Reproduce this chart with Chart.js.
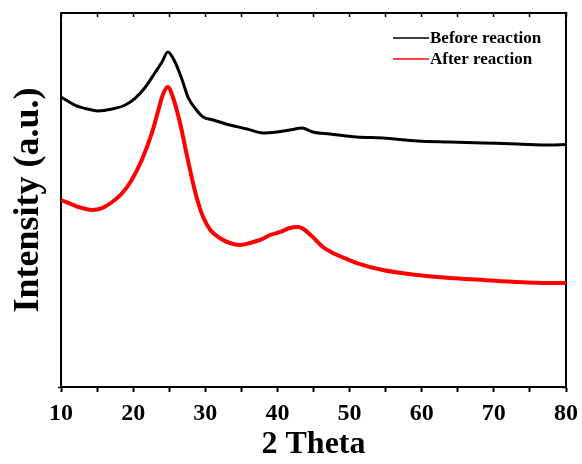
<!DOCTYPE html>
<html>
<head>
<meta charset="utf-8">
<script src="https://cdn.jsdelivr.net/npm/chart.js@4/dist/chart.umd.min.js"></script>
<style>
  html, body { margin: 0; padding: 0; background: #fff; }
  #wrap { width: 582px; height: 464px; }
</style>
</head>
<body>
<div id="wrap"><canvas id="grafico"></canvas></div>
<script>
// valores (2 theta em graus, intensidade em u.a.)
const thetaAntes = [10.0, 11.9, 13.7, 15.1, 17.1, 18.9, 20.3, 21.6, 23.0, 24.0, 24.8, 25.8, 26.8, 27.6, 29.0, 29.7, 31.1, 33.4, 35.8, 38.0, 39.9, 41.7, 43.4, 44.9, 47.3, 51.0, 54.6, 59.4, 63.9, 68.5, 73.2, 77.8, 80.0];
const intensAntes = [3558, 3460, 3411, 3387, 3411, 3460, 3546, 3669, 3853, 3988, 4110, 3988, 3767, 3558, 3374, 3313, 3276, 3215, 3166, 3117, 3129, 3153, 3178, 3129, 3104, 3067, 3055, 3018, 3006, 2994, 2982, 2969, 2975];

const thetaDepois = [10.0, 11.0, 12.4, 14.3, 15.7, 17.1, 18.5, 19.8, 21.2, 22.6, 23.5, 24.1, 24.8, 25.5, 26.5, 27.5, 28.3, 28.9, 29.7, 30.7, 32.0, 33.4, 34.8, 36.2, 37.6, 39.0, 40.4, 41.7, 42.9, 43.8, 44.9, 46.3, 47.7, 49.6, 51.0, 54.6, 59.4, 63.9, 68.5, 73.2, 77.8, 80.0];
const intensDepois = [2294, 2258, 2209, 2172, 2196, 2270, 2380, 2540, 2785, 3117, 3399, 3583, 3681, 3558, 3239, 2822, 2503, 2294, 2086, 1926, 1828, 1767, 1742, 1767, 1804, 1865, 1902, 1951, 1963, 1926, 1840, 1718, 1644, 1571, 1521, 1436, 1374, 1337, 1313, 1288, 1276, 1276];

const legendas = ["Before reaction", "After reaction"];
const cores = ["#000000", "#ff0000"];

const fonte = "'Liberation Serif', 'Times New Roman', serif";

function pontos(xs, ys) {
  return xs.map((x, i) => ({ x: x, y: ys[i] }));
}

// legenda desenhada dentro da area do grafico, como no original
const legendaInterna = {
  id: "legendaInterna",
  afterDraw(chart) {
    const ctx = chart.ctx;
    const area = chart.chartArea;
    ctx.save();
    ctx.font = "bold 17px " + fonte;
    ctx.textBaseline = "middle";
    legendas.forEach((txt, i) => {
      let y = area.top + 25 + i * 21;
      ctx.strokeStyle = cores[i];
      ctx.lineWidth = 1.5;
      ctx.beginPath();
      ctx.moveTo(area.right - 173, y);
      ctx.lineTo(area.right - 137, y);
      ctx.stroke();
      ctx.fillStyle = "#000";
      ctx.fillText(txt, area.right - 136, y + 1);
    });
    ctx.restore();
  }
};

const eixoBorda = { display: true, color: "#000", width: 2 };

new Chart(document.getElementById("grafico"), {
  type: "scatter",
  data: {
    datasets: [
      {
        label: legendas[0],
        data: pontos(thetaAntes, intensAntes),
        showLine: true,
        borderColor: cores[0],
        borderWidth: 3,
        pointRadius: 0,
        cubicInterpolationMode: "monotone",
      },
      {
        label: legendas[1],
        data: pontos(thetaDepois, intensDepois),
        showLine: true,
        borderColor: cores[1],
        borderWidth: 4,
        pointRadius: 0,
        cubicInterpolationMode: "monotone",
      },
    ],
  },
  options: {
    responsive: true,
    maintainAspectRatio: false,
    animation: false,
    layout: { padding: { top: 13, right: 0, left: 0, bottom: 0 } },
    plugins: { legend: { display: false }, tooltip: { enabled: false } },
    scales: {
      x: {
        type: "linear",
        position: "bottom",
        min: 10,
        max: 80,
        border: eixoBorda,
        grid: { drawOnChartArea: false, tickLength: 5, tickWidth: 2, tickColor: "#000" },
        ticks: {
          stepSize: 5,
          padding: 7,
          color: "#000",
          font: { family: fonte, size: 24, weight: "bold" },
          maxRotation: 0,
          callback: (v) => (v % 10 === 0 ? v : ""),
        },
        title: {
          display: true,
          text: "2 Theta",
          color: "#000",
          font: { family: fonte, size: 32, weight: "bold" },
          padding: { top: 0, bottom: 0 },
        },
        afterFit: (s) => { s.height = 77; s.paddingLeft = 0; s.paddingRight = 0; },
      },
      x2: {
        type: "linear",
        position: "top",
        min: 10,
        max: 80,
        border: eixoBorda,
        grid: { drawOnChartArea: false, tickLength: -4, tickWidth: 1.5, tickColor: "#000" },
        ticks: { stepSize: 5, callback: () => "" },
        afterFit: (s) => { s.height = 0; s.paddingLeft = 0; s.paddingRight = 0; },
      },
      y: {
        min: 0,
        max: 4589,
        border: eixoBorda,
        grid: { drawOnChartArea: false, tickLength: 3, tickWidth: 1.5, tickColor: "#000" },
        ticks: { stepSize: 1000, callback: () => "" },
        afterBuildTicks: (s) => { s.ticks = s.ticks.filter((t) => t.value % 1000 === 0); },
        title: {
          display: true,
          text: "Intensity (a.u.)",
          color: "#000",
          font: { family: fonte, size: 36, weight: "bold" },
          padding: { top: 7, bottom: 0 },
        },
        afterFit: (s) => { s.width = 61; },
      },
      y2: {
        position: "right",
        min: 0,
        max: 4589,
        border: eixoBorda,
        grid: { drawOnChartArea: false, tickLength: -4, tickWidth: 1.5, tickColor: "#000" },
        ticks: { stepSize: 1000, callback: () => "" },
        afterBuildTicks: (s) => { s.ticks = s.ticks.filter((t) => t.value % 1000 === 0); },
        afterFit: (s) => { s.width = 16; },
      },
    },
  },
  plugins: [legendaInterna],
});
</script>
</body>
</html>
